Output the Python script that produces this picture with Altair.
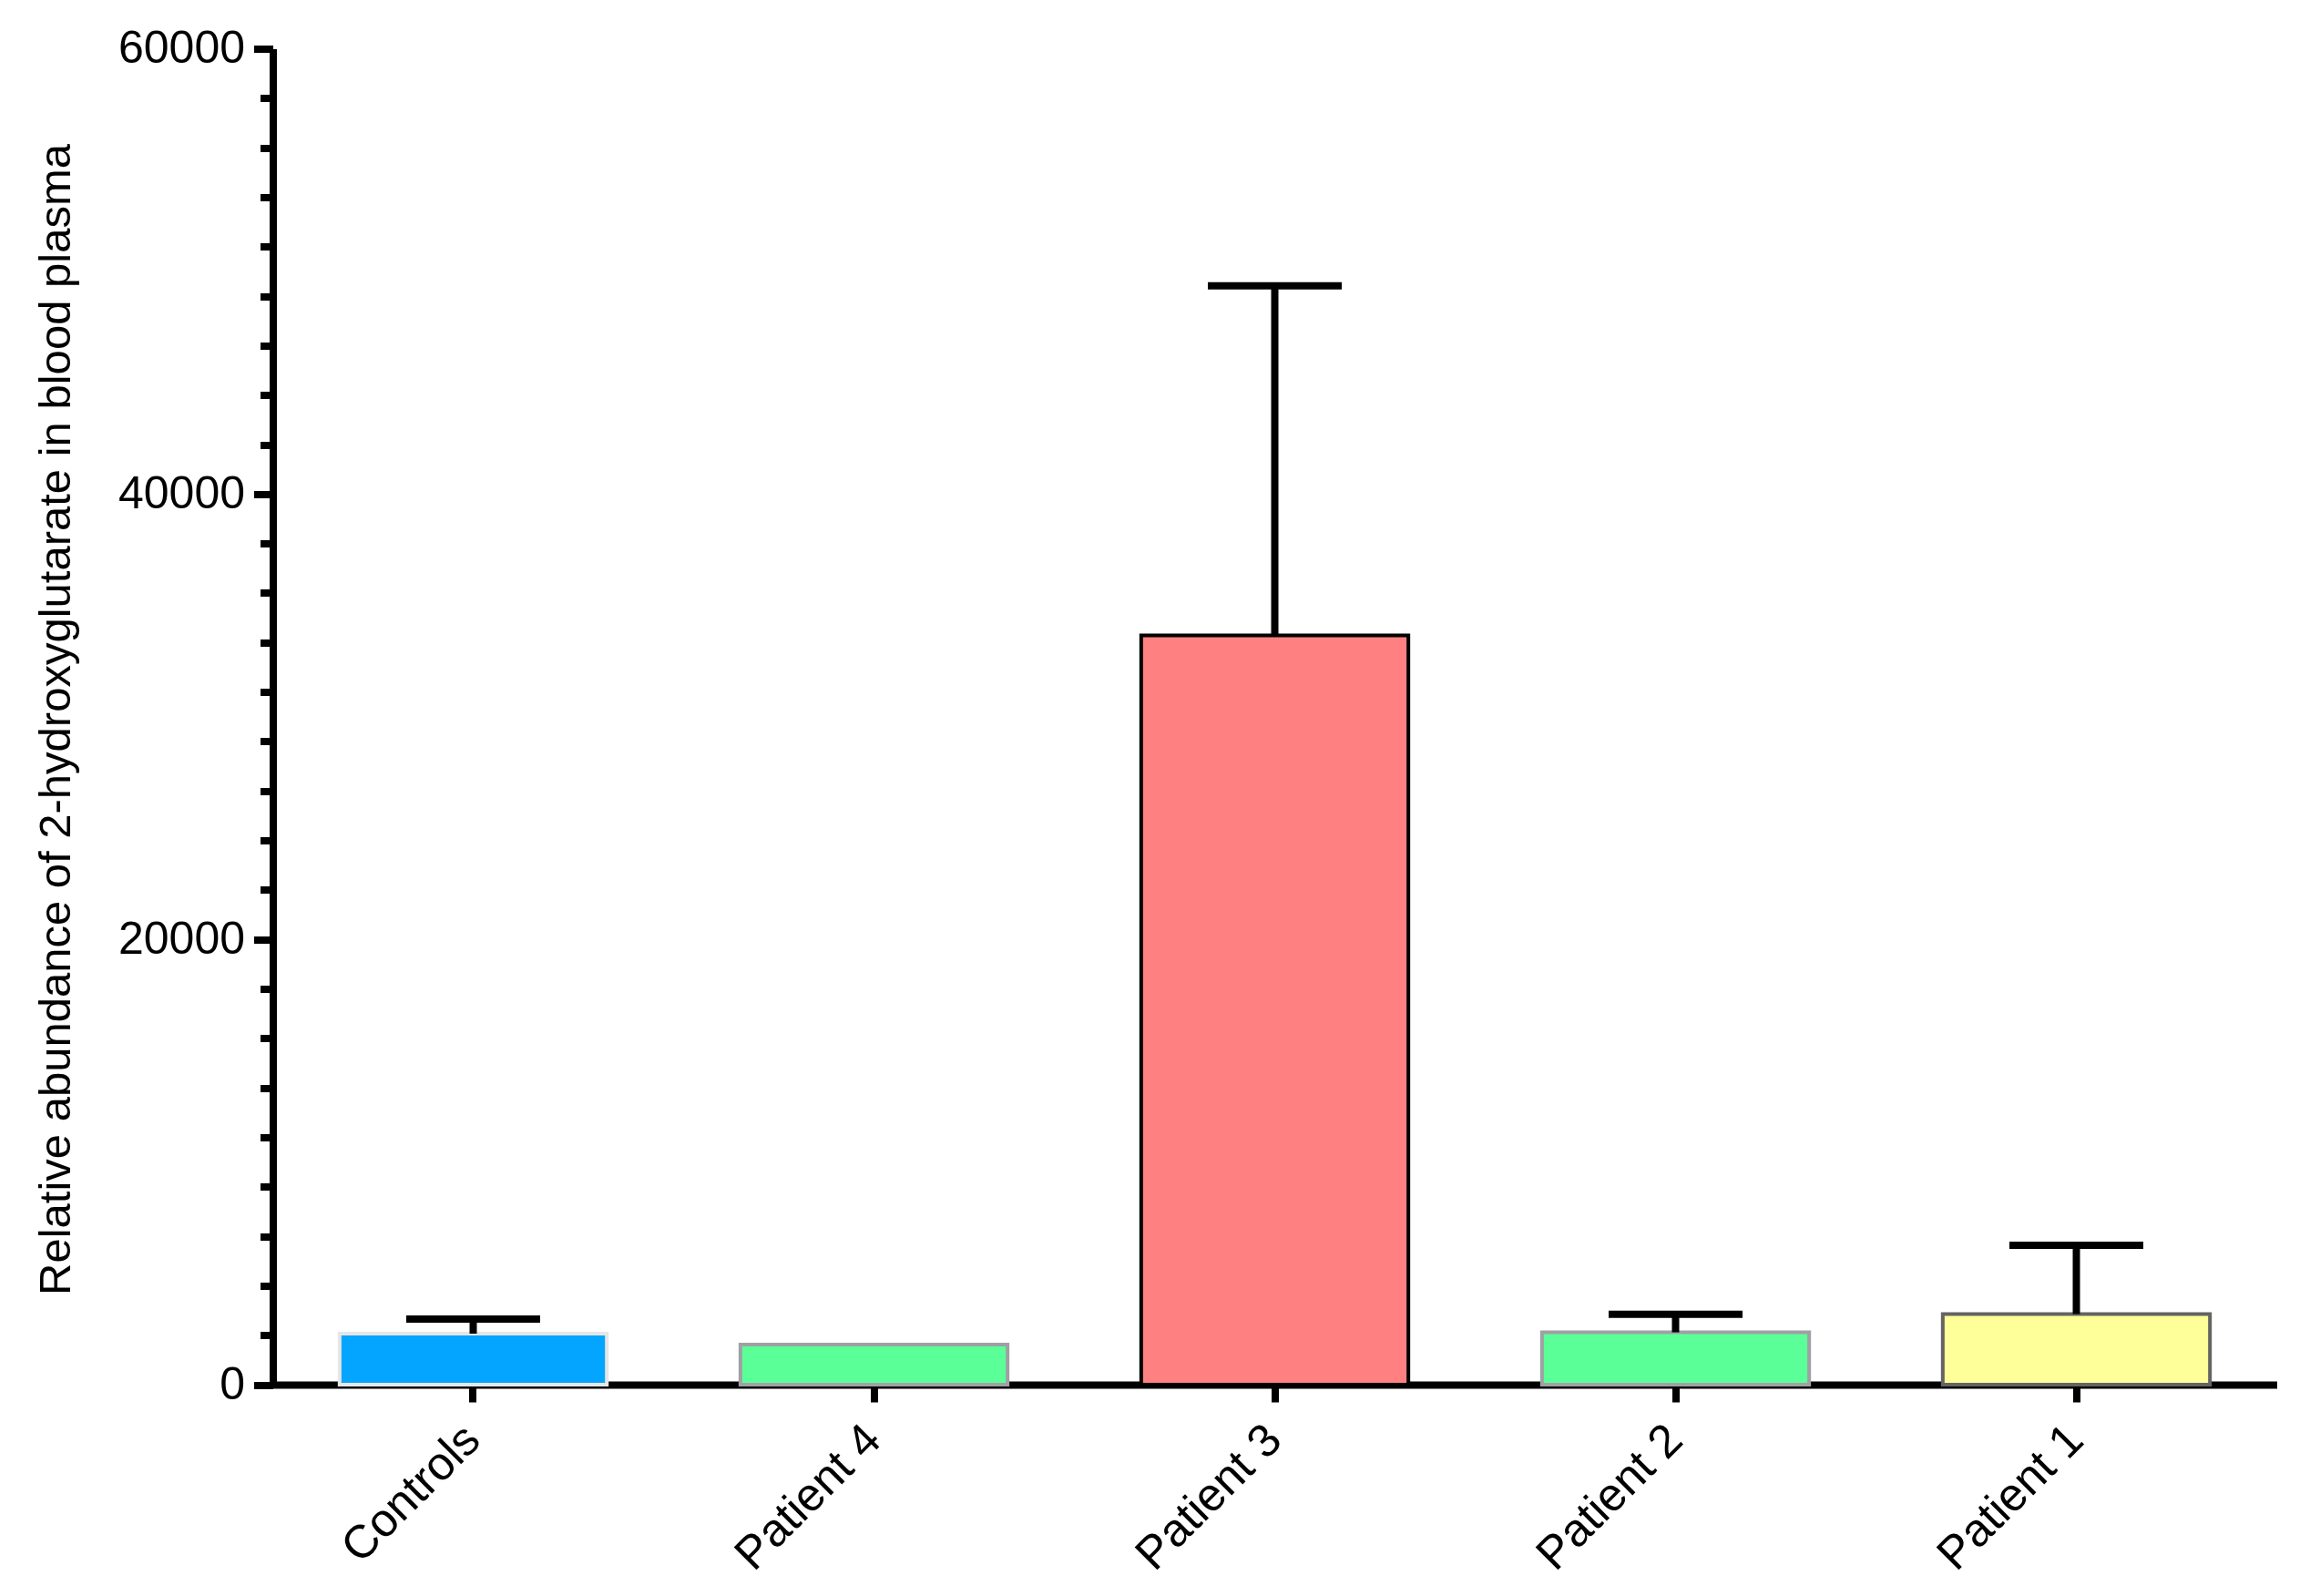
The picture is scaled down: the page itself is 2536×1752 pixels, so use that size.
import altair as alt
import pandas as pd

# ---- data ----
categories = ["Controls", "Patient 4", "Patient 3", "Patient 2", "Patient 1"]
means = [2290, 1800, 33650, 2350, 3170]
err_tops = [2950, None, 49350, 3160, 6260]   # mean + SD (upper error bar only)

fill_colors = ["#03A5FF", "#5BFF98", "#FF8080", "#5BFF98", "#FFFF99"]
stroke_colors = ["#E6E6E6", "#A0A0A4", "#000000", "#A0A0A4", "#646464"]
stroke_widths = [4, 4, 5, 4, 4]

y_title = "Relative abundance of 2-hydroxyglutarate in blood plasma"
MAJOR = 20000
MINOR_DIV = 9
Y_MAX = 60000
tick_values = [round(k * MAJOR / MINOR_DIV, 4) for k in range(0, MINOR_DIV * 3 + 1)]

FONT = "Liberation Sans"
FS = 49

df = pd.DataFrame({"cat": categories, "mean": means, "err": err_tops})
err_df = df.dropna(subset=["err"])

xscale = alt.Scale(domain=categories, paddingInner=1/3, paddingOuter=1/6)
yscale = alt.Scale(domain=[0, Y_MAX], nice=False, zero=True)

x_axis = alt.Axis(
    title=None, labelAngle=-45, labelAlign="right", labelBaseline="top",
    labelFont=FONT, labelFontSize=51, labelColor="black", labelPadding=16,
    labelOffset=-18,
    labelLimit=1000, tickSize=19, tickWidth=8, tickColor="black",
    domainWidth=8, domainColor="black", grid=False,
)
y_axis = alt.Axis(
    title=y_title, values=tick_values,
    labelExpr=f"datum.value % {MAJOR} === 0 ? format(datum.value, 'd') : ''",
    labelFont=FONT, labelFontSize=50, labelColor="black", labelPadding=10,
    labelOverlap=False, labelFlush=False,
    tickSize={"condition": {"test": f"datum.value % {MAJOR} === 0", "value": 21}, "value": 14},
    tickWidth=8, tickColor="black", domainWidth=8, domainColor="black", grid=False,
    titleFont=FONT, titleFontSize=FS, titleFontWeight="normal", titleColor="black",
    titleX=-238, titleY=736, titleBaseline="middle", titleAlign="center",
)

base = alt.Chart(df)

bars = base.mark_bar().encode(
    x=alt.X("cat:N", scale=xscale, axis=x_axis, sort=categories),
    y=alt.Y("mean:Q", scale=yscale, axis=y_axis),
    fill=alt.Fill("cat:N", scale=alt.Scale(domain=categories, range=fill_colors), legend=None),
    stroke=alt.Stroke("cat:N", scale=alt.Scale(domain=categories, range=stroke_colors), legend=None),
    strokeWidth=alt.StrokeWidth("cat:N", scale=alt.Scale(domain=categories, range=stroke_widths), legend=None),
)

rules = alt.Chart(err_df).mark_rule(color="black", strokeWidth=8).encode(
    x=alt.X("cat:N", scale=xscale, sort=categories),
    y=alt.Y("mean:Q", scale=yscale),
    y2="err:Q",
)

caps = alt.Chart(err_df).mark_tick(color="black", thickness=8, size=147, orient="horizontal", opacity=1).encode(
    x=alt.X("cat:N", scale=xscale, sort=categories),
    y=alt.Y("err:Q", scale=yscale),
)

chart = alt.layer(bars, rules, caps).properties(
    width=2200, height=1466.5,
    autosize=alt.AutoSizeParams(type="none"),
    padding={"left": 291.5, "top": 45.5, "right": 20, "bottom": 230},
).configure_view(stroke=None)

chart.save("out.html", embed_options={"renderer": "svg", "actions": False})
